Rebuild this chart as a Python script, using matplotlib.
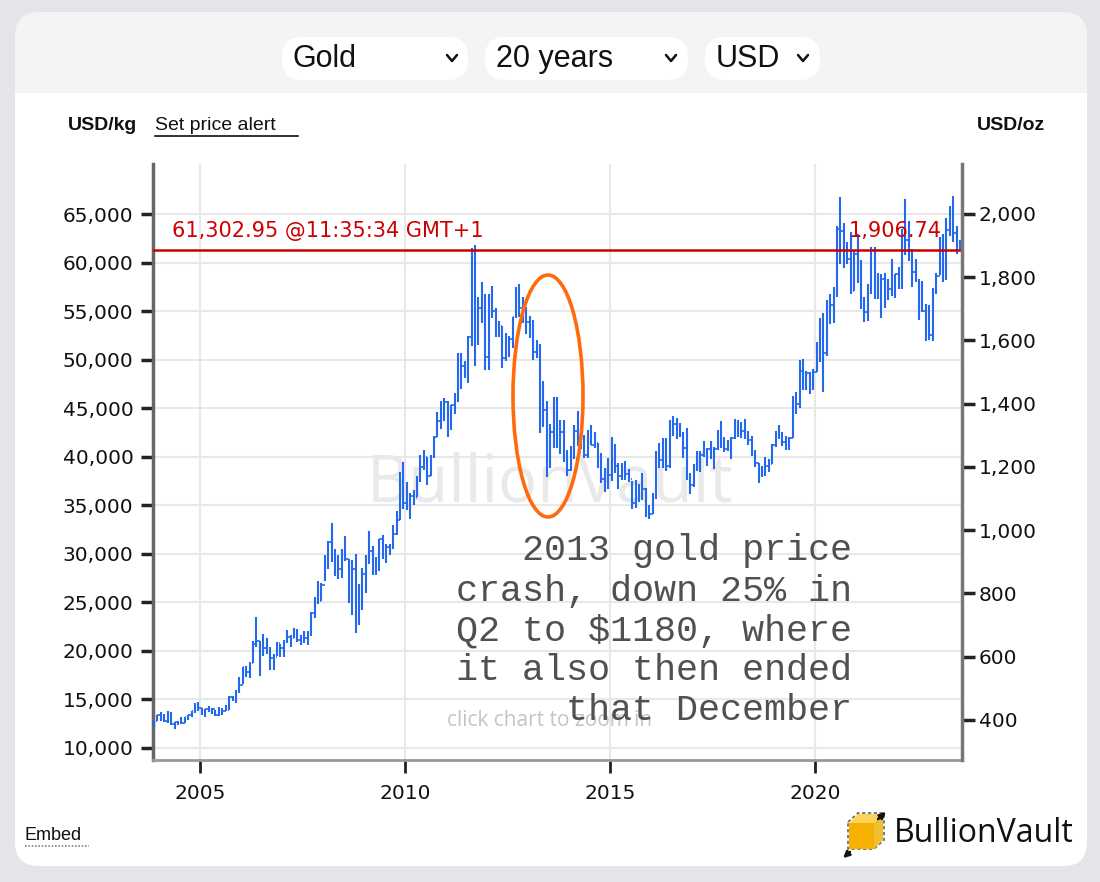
import matplotlib
matplotlib.use("Agg")
import matplotlib.pyplot as plt
from matplotlib.patches import FancyBboxPatch, Rectangle, Ellipse, Polygon, FancyArrowPatch

OZ_PER_KG = 32.1507

# monthly gold price, USD/oz, starting Nov 2003
START_YEAR, START_MONTH = 2003, 11
highs = [
    400, 417,
    427, 419, 428, 427, 395, 398, 410, 411, 418, 428, 456, 457,
    440, 437, 446, 438, 433, 443, 438, 448, 476, 478, 497, 540,
    570, 573, 587, 654, 730, 655, 677, 665, 633, 613, 651, 644,
    658, 690, 673, 694, 692, 672, 687, 685, 746, 795, 845, 838,
    929, 974, 1032, 950, 930, 949, 989, 918, 912, 933, 836, 889,
    928, 1006, 958, 924, 982, 992, 966, 965, 1025, 1070, 1195, 1227,
    1162, 1128, 1139, 1183, 1249, 1265, 1244, 1249, 1310, 1388, 1424, 1431,
    1424, 1411, 1447, 1575, 1577, 1552, 1632, 1913, 1921, 1757, 1803, 1764,
    1764, 1790, 1719, 1678, 1664, 1641, 1631, 1692, 1787, 1796, 1755, 1723,
    1694, 1683, 1617, 1605, 1487, 1423, 1348, 1434, 1434, 1362, 1361, 1267,
    1280, 1345, 1392, 1332, 1315, 1330, 1345, 1323, 1287, 1255, 1207, 1239,
    1307, 1284, 1224, 1224, 1232, 1205, 1167, 1170, 1157, 1191, 1143, 1088,
    1128, 1263, 1287, 1304, 1304, 1362, 1375, 1367, 1352, 1324, 1337, 1191,
    1220, 1264, 1261, 1295, 1272, 1296, 1274, 1331, 1357, 1306, 1299, 1307,
    1366, 1361, 1356, 1365, 1326, 1309, 1266, 1223, 1214, 1243, 1237, 1285,
    1326, 1347, 1324, 1310, 1306, 1439, 1453, 1555, 1557, 1519, 1516, 1525,
    1611, 1689, 1704, 1747, 1765, 1789, 1983, 2075, 1992, 1933, 1965, 1906,
    1959, 1875, 1755, 1798, 1916, 1916, 1834, 1831, 1834, 1814, 1877, 1830,
    1853, 1974, 2070, 1998, 1910, 1879, 1814, 1807, 1735, 1729, 1786, 1833,
    1949, 1959, 2009, 2048, 2078, 1984, 1940,
]
lows = [
    379, 398,
    399, 393, 391, 386, 372, 385, 387, 390, 400, 411, 423, 431,
    418, 411, 425, 419, 414, 413, 418, 428, 433, 461, 456, 488,
    516, 537, 535, 584, 636, 542, 606, 613, 561, 560, 605, 603,
    604, 648, 636, 664, 650, 641, 648, 642, 671, 727, 772, 781,
    845, 886, 907, 862, 851, 856, 911, 775, 736, 681, 705, 752,
    808, 902, 866, 865, 878, 915, 905, 930, 950, 993, 1040, 1076,
    1075, 1045, 1088, 1114, 1163, 1203, 1155, 1181, 1240, 1307, 1332, 1360,
    1308, 1330, 1381, 1420, 1462, 1495, 1480, 1600, 1535, 1603, 1672, 1523,
    1522, 1690, 1627, 1628, 1527, 1550, 1564, 1591, 1687, 1692, 1672, 1636,
    1626, 1555, 1562, 1321, 1338, 1180, 1208, 1271, 1273, 1252, 1226, 1182,
    1200, 1238, 1277, 1268, 1240, 1241, 1282, 1273, 1207, 1160, 1131, 1142,
    1167, 1191, 1142, 1170, 1171, 1162, 1077, 1080, 1098, 1106, 1052, 1046,
    1062, 1110, 1208, 1207, 1200, 1207, 1310, 1302, 1306, 1241, 1171, 1124,
    1146, 1200, 1195, 1242, 1214, 1236, 1205, 1266, 1271, 1260, 1262, 1236,
    1302, 1307, 1303, 1302, 1282, 1245, 1211, 1160, 1180, 1182, 1196, 1221,
    1276, 1302, 1280, 1266, 1267, 1305, 1381, 1400, 1459, 1458, 1445, 1459,
    1517, 1548, 1451, 1567, 1670, 1671, 1757, 1863, 1849, 1860, 1764, 1775,
    1802, 1717, 1677, 1678, 1765, 1750, 1750, 1687, 1721, 1746, 1759, 1753,
    1780, 1780, 1890, 1872, 1787, 1805, 1681, 1709, 1615, 1617, 1616, 1765,
    1826, 1804, 1809, 1950, 1932, 1893, 1903,
]
closes = [
    398, 416,
    402, 397, 424, 388, 393, 395, 391, 409, 416, 428, 453, 438,
    422, 435, 428, 435, 417, 437, 430, 433, 473, 470, 495, 513,
    569, 556, 582, 644, 653, 614, 632, 623, 599, 603, 646, 632,
    650, 666, 663, 680, 656, 650, 665, 672, 743, 789, 783, 834,
    923, 972, 933, 865, 886, 930, 918, 833, 884, 730, 815, 869,
    927, 943, 916, 883, 979, 927, 954, 955, 996, 1040, 1180, 1096,
    1083, 1118, 1113, 1180, 1212, 1244, 1181, 1246, 1308, 1358, 1386, 1421,
    1333, 1410, 1439, 1556, 1536, 1500, 1628, 1826, 1620, 1722, 1746, 1564,
    1738, 1710, 1668, 1663, 1560, 1598, 1622, 1691, 1773, 1719, 1714, 1675,
    1663, 1580, 1598, 1472, 1393, 1234, 1323, 1396, 1327, 1323, 1250, 1202,
    1244, 1326, 1284, 1296, 1250, 1322, 1283, 1287, 1210, 1172, 1175, 1184,
    1283, 1213, 1183, 1182, 1190, 1172, 1095, 1133, 1115, 1142, 1065, 1061,
    1118, 1238, 1234, 1293, 1215, 1322, 1350, 1309, 1316, 1273, 1173, 1152,
    1211, 1249, 1249, 1268, 1269, 1242, 1269, 1322, 1280, 1270, 1275, 1303,
    1345, 1318, 1325, 1315, 1299, 1253, 1224, 1201, 1192, 1215, 1222, 1282,
    1321, 1313, 1292, 1284, 1305, 1409, 1413, 1520, 1472, 1513, 1463, 1517,
    1589, 1585, 1577, 1686, 1730, 1781, 1975, 1968, 1886, 1879, 1776, 1895,
    1847, 1734, 1708, 1769, 1906, 1770, 1814, 1814, 1757, 1783, 1774, 1829,
    1796, 1909, 1937, 1897, 1837, 1807, 1766, 1711, 1660, 1633, 1768, 1824,
    1928, 1826, 1969, 1990, 1962, 1919, 1907,
]
first_open = 393

last_kg = 61302.95
last_oz = 1906.74
last_label = "61,302.95 @11:35:34 GMT+1"

year_ticks = [2005, 2010, 2015, 2020]
kg_ticks = [10000, 15000, 20000, 25000, 30000, 35000, 40000, 45000, 50000, 55000, 60000, 65000]
oz_ticks = [400, 600, 800, 1000, 1200, 1400, 1600, 1800, 2000]

note_lines = [
    "2013 gold price",
    "crash, down 25% in",
    "Q2 to $1180, where",
    "it also then ended",
    "that December",
]

W, H = 1100, 882
BLUE = "#2468ee"
RED = "#cc0000"


def fx(px):
    return px / W


def fy(py):
    return 1 - py / H


fig = plt.figure(figsize=(W / 100, H / 100), dpi=100, facecolor="#e4e5e8")

# --- page chrome ------------------------------------------------------------
bg = fig.add_axes([0, 0, 1, 1], zorder=0)
bg.set_xlim(0, W)
bg.set_ylim(H, 0)
bg.axis("off")
bg.add_patch(FancyBboxPatch((15, 12), 1072, 854, boxstyle="round,pad=0,rounding_size=24",
                            facecolor="#f4f4f5", edgecolor="none"))
bg.add_patch(FancyBboxPatch((15, 93), 1072, 773, boxstyle="round,pad=0,rounding_size=24",
                            facecolor="white", edgecolor="none"))
bg.add_patch(Rectangle((15, 93), 1072, 60, facecolor="white", edgecolor="none"))

# dropdown pills
for x0, x1, label, chev in [(282, 468, "Gold", 452), (485, 688, "20 years", 671), (705, 820, "USD", 803)]:
    bg.add_patch(FancyBboxPatch((x0, 37), x1 - x0, 43, boxstyle="round,pad=0,rounding_size=20",
                                facecolor="white", edgecolor="none"))
    bg.text(x0 + 11, 59, label, ha="left", va="center", fontsize=22, family="Liberation Sans", color="#111")
    bg.plot([chev - 5, chev, chev + 5], [55, 61, 55], color="#111", lw=1.8, solid_capstyle="round")

bg.text(68, 126, "USD/kg", ha="left", va="center", fontsize=14, fontweight="bold", color="#111",
        family="Liberation Sans")
bg.text(155, 126, "Set price alert", ha="left", va="center", fontsize=14, color="#111",
        family="Liberation Sans")
bg.plot([155, 298], [136, 136], color="#111", lw=1.2)
bg.text(1045, 126, "USD/oz", ha="right", va="center", fontsize=14, fontweight="bold", color="#111",
        family="Liberation Sans")

bg.text(25, 836, "Embed", ha="left", va="center", fontsize=13, color="#111", family="Liberation Sans")
bg.plot([25, 89], [846, 846], color="#888", lw=1.2, ls=(0, (1, 1)))

# logo: cube with yellow front face and corner arrows
bg.add_patch(Polygon([(848, 822), (858, 813), (884, 813), (884, 840), (874, 849), (848, 849)], closed=True,
                     facecolor="none", edgecolor="#666", lw=1.2, ls=(0, (2, 1.5))))
bg.add_patch(Rectangle((849, 823), 25, 26, facecolor="#f5b000", edgecolor="none"))
bg.add_patch(Polygon([(849, 823), (858, 814), (883, 814), (874, 823)], closed=True,
                     facecolor="#fbd25a", edgecolor="none"))
bg.add_patch(Polygon([(874, 823), (883, 814), (883, 840), (874, 849)], closed=True,
                     facecolor="#f0c030", edgecolor="none"))
bg.add_patch(FancyArrowPatch((876, 821), (888, 810), arrowstyle="-|>", mutation_scale=9, color="#111", lw=1.8))
bg.add_patch(FancyArrowPatch((852, 850), (841, 860), arrowstyle="-|>", mutation_scale=9, color="#111", lw=1.8))
bg.text(894, 833, "BullionVault", ha="left", va="center", fontsize=23, family="Open Sans", color="#111")

# --- price chart ------------------------------------------------------------
ax = fig.add_axes([fx(153), fy(760), fx(962 - 153), (760 - 164) / H], zorder=2)
ax.patch.set_alpha(0)

n = len(closes)
xs = [START_YEAR + (START_MONTH - 1 + i + 0.5) / 12 for i in range(n)]
opens = [first_open] + closes[:-1]
hk = [v * OZ_PER_KG for v in highs]
lk = [v * OZ_PER_KG for v in lows]
ck = [v * OZ_PER_KG for v in closes]
ok = [v * OZ_PER_KG for v in opens]
tw = 0.035
ax.vlines(xs, lk, hk, color=BLUE, lw=1.5, zorder=3)
ax.hlines(ok, [x - tw for x in xs], xs, color=BLUE, lw=1.2, zorder=3)
ax.hlines(ck, xs, [x + tw for x in xs], color=BLUE, lw=1.2, zorder=3)

ax.axhline(last_kg, color=RED, lw=1.8, zorder=4)
ax.text((172 - 153) / 809, (760 - 231) / 596, last_label, transform=ax.transAxes,
        ha="left", va="center", fontsize=15, color=RED, zorder=5)
ax.text((942 - 153) / 809, (760 - 231) / 596, f"{last_oz:,.2f}", transform=ax.transAxes,
        ha="right", va="center", fontsize=15, color=RED, zorder=5)

ax.text((550 - 153) / 809, (760 - 485) / 596, "BullionVault", transform=ax.transAxes,
        ha="center", va="center", fontsize=47, color="#e9e9e9", family="Open Sans", zorder=1)
ax.text((550 - 153) / 809, (760 - 720) / 596, "click chart to zoom in", transform=ax.transAxes,
        ha="center", va="center", fontsize=15, color="#c4c4c4", family="Open Sans", zorder=1)

ax.set_xlim(2003.85, 2023.59)
ax.set_ylim(8763, 70150)
ax.set_xticks(year_ticks)
ax.set_xticklabels([str(y) for y in year_ticks])
ax.set_yticks(kg_ticks)
ax.set_yticklabels([f"{v:,}" for v in kg_ticks])
ax.grid(True, color="#e8e8e8", lw=1.5, zorder=0)
ax.set_axisbelow(True)
for s in ["top", "right"]:
    ax.spines[s].set_visible(False)
ax.spines["left"].set_color("#666")
ax.spines["left"].set_linewidth(2.5)
ax.spines["bottom"].set_color("#999")
ax.spines["bottom"].set_linewidth(2)
ax.tick_params(axis="y", direction="out", length=9, width=2.5, color="#222", labelsize=14.5,
               labelcolor="#111", pad=5)
ax.tick_params(axis="x", direction="out", length=9, width=2, color="#222", labelsize=14.5,
               labelcolor="#111", pad=8)

ax2 = ax.twinx()
ax2.set_zorder(3)
ax2.set_ylim(273.5, 2158)
ax2.set_yticks(oz_ticks)
ax2.set_yticklabels([f"{v:,}" for v in oz_ticks])
for s in ["top", "left", "bottom"]:
    ax2.spines[s].set_visible(False)
ax2.spines["right"].set_color("#777")
ax2.spines["right"].set_linewidth(2.5)
ax2.tick_params(axis="y", direction="out", length=9, width=2.5, color="#222", labelsize=14.5,
                labelcolor="#111", pad=3)

# --- annotation overlay -------------------------------------------------------
ov = fig.add_axes([0, 0, 1, 1], zorder=6)
ov.set_xlim(0, W)
ov.set_ylim(H, 0)
ov.axis("off")
ov.patch.set_alpha(0)
ov.add_patch(Ellipse((548, 396), 70, 242, facecolor="none", edgecolor="#ff6a0d", lw=2.6))
for i, line in enumerate(note_lines):
    ov.text(852, 551 + i * 40, line, ha="right", va="center", fontsize=26.5,
            family="Liberation Mono", color="#505050")

fig.savefig("out.png", dpi=100, facecolor=fig.get_facecolor())
